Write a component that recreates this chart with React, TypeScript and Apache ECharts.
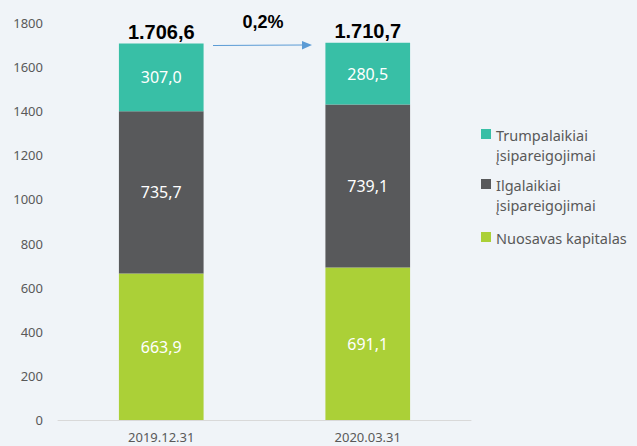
import React, { useEffect, useRef } from "react";
import * as echarts from "echarts";

const categories = ["2019.12.31", "2020.03.31"];
const seriesNames = ["Nuosavas kapitalas", "Ilgalaikiai įsipareigojimai", "Trumpalaikiai įsipareigojimai"];
const equity = [663.9, 691.1];
const longTerm = [735.7, 739.1];
const shortTerm = [307.0, 280.5];
const totals = [1706.6, 1710.7];
const changeLabel = "0,2%";
const colors = ["#abd037", "#58595b", "#38bfa6"];
const yTicks = { min: 0, max: 1800, interval: 200 };

const fmt = (v: number) => {
  const [i, d] = v.toFixed(1).split(".");
  const withDots = i.replace(/\B(?=(\d{3})+(?!\d))/g, ".");
  return withDots + "," + d;
};

export default function App() {
  const ref = useRef<HTMLDivElement>(null);
  useEffect(() => {
    const chart = echarts.init(ref.current!, null, { renderer: "svg" });
    const font = "'Noto Sans', sans-serif";
    const boldFont = "'Liberation Sans', Arial, sans-serif";
    const segLabel = {
      show: true,
      position: "inside",
      color: "#ffffff",
      fontSize: 16,
      fontFamily: font,
      formatter: (p: any) => fmt(p.value),
    };
    const dataSets = [equity, longTerm, shortTerm];
    const legendItems = [
      { name: "Trumpalaikiai\nįsipareigojimai", color: colors[2], top: 129 },
      { name: "Ilgalaikiai\nįsipareigojimai", color: colors[1], top: 179 },
      { name: "Nuosavas kapitalas", color: colors[0], top: 232 },
    ];
    const graphic: any[] = [];
    legendItems.forEach((it) => {
      graphic.push({
        type: "rect",
        left: 481,
        top: it.top,
        shape: { width: 10, height: 10 },
        style: { fill: it.color },
      });
      graphic.push({
        type: "text",
        left: 496,
        top: it.top - 4,
        style: {
          text: it.name,
          fill: "#595959",
          fontSize: 14.5,
          fontFamily: font,
          lineHeight: 20,
        },
      });
    });
    graphic.push({
      type: "line",
      shape: { x1: 213, y1: 45.5, x2: 304, y2: 45 },
      style: { stroke: "#5b9bd5", lineWidth: 1.2 },
    });
    graphic.push({
      type: "polygon",
      shape: { points: [[302, 41], [312, 45], [302, 49.5]] },
      style: { fill: "#5b9bd5" },
    });
    graphic.push({
      type: "text",
      x: 263,
      y: 22,
      style: {
        text: changeLabel,
        fill: "#000000",
        fontSize: 18,
        fontWeight: "bold",
        fontFamily: boldFont,
        align: "center",
        verticalAlign: "middle",
      },
    });

    chart.setOption({
      animation: false,
      backgroundColor: "#f0f4f8",
      grid: { left: 58, right: 166, top: 23, bottom: 26, containLabel: false },
      xAxis: {
        type: "category",
        data: categories,
        axisLine: { lineStyle: { color: "#d9d9d9", width: 1 } },
        axisTick: { show: false },
        axisLabel: { color: "#595959", fontSize: 13, fontFamily: font, margin: 10 },
      },
      yAxis: {
        type: "value",
        min: yTicks.min,
        max: yTicks.max,
        interval: yTicks.interval,
        splitLine: { show: false },
        axisLine: { show: false },
        axisTick: { show: false },
        axisLabel: {
          color: "#595959",
          fontSize: 13,
          fontFamily: font,
          margin: 15,
          formatter: (v: number) => String(v),
        },
      },
      series: [
        ...dataSets.map((d, i) => ({
          name: seriesNames[i],
          type: "bar",
          stack: "total",
          barWidth: "41%",
          data: d,
          itemStyle: { color: colors[i] },
          label: segLabel,
        })),
        {
          name: "Iš viso",
          type: "scatter",
          data: totals,
          symbol: "circle",
          symbolSize: 2,
          itemStyle: { color: "rgba(0,0,0,0)", opacity: 1 },
          silent: true,
          z: 10,
          label: {
            show: true,
            position: "top",
            distance: 1,
            color: "#000000",
            fontSize: 20,
            fontWeight: "bold",
            fontFamily: boldFont,
            formatter: (p: any) => fmt(p.value),
          },
        },
      ],
      graphic,
    });
    return () => chart.dispose();
  }, []);
  return (
    <div
      ref={ref}
      style={{ position: "absolute", left: 0, top: 0, width: 637, height: 446 }}
    />
  );
}
